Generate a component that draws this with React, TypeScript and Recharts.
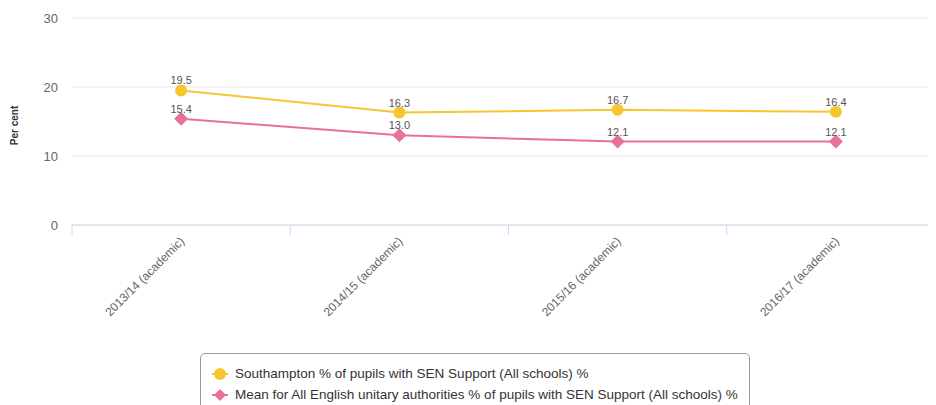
import React from 'react';
import { LineChart, Line, XAxis, YAxis, CartesianGrid, Legend, LabelList } from 'recharts';

const years = ['2013/14 (academic)', '2014/15 (academic)', '2015/16 (academic)', '2016/17 (academic)'];
const southampton = [19.5, 16.3, 16.7, 16.4];
const englishMean = [15.4, 13.0, 12.1, 12.1];
const yTicks = [0, 10, 20, 30];

const seriesNames = {
    southampton: 'Southampton % of pupils with SEN Support (All schools) %',
    englishMean: 'Mean for All English unitary authorities % of pupils with SEN Support (All schools) %',
};

const YELLOW = '#f7c52f';
const PINK = '#e8719b';
const FONT = '"Liberation Sans", Arial, sans-serif';

const data = years.map((year, i) => ({
    year,
    southampton: southampton[i],
    englishMean: englishMean[i],
}));

const Diamond = (props: any) => {
    const { cx, cy, fill, r = 7 } = props;
    if (cx == null || cy == null) return null;
    return <polygon points={`${cx},${cy - r} ${cx + r},${cy} ${cx},${cy + r} ${cx - r},${cy}`} fill={fill} />;
};

const XTick = (props: any) => {
    const { x, y, payload } = props;
    const half = payload.offset || 0;
    return (
        <g>
            <line x1={x - half} x2={x - half} y1={y - 8} y2={y + 2} stroke="#ccd6eb" />
            <text
                x={x + 4}
                y={y + 9}
                textAnchor="end"
                fontSize={12}
                fill="#666"
                fontFamily={FONT}
                transform={`rotate(-45, ${x + 4}, ${y + 9})`}
            >
                {payload.value}
            </text>
        </g>
    );
};

const YLabel = (props: any) => {
    const { viewBox } = props;
    const x = viewBox.x + 10;
    const y = viewBox.y + viewBox.height / 2 + 4;
    return (
        <text
            x={x}
            y={y}
            textAnchor="middle"
            fontSize={10}
            fontWeight="bold"
            fill="#333"
            fontFamily={FONT}
            transform={`rotate(-90, ${x}, ${y})`}
        >
            Per cent
        </text>
    );
};

const LegendBox = () => (
    <div
        style={{
            border: '1px solid #999',
            borderRadius: 5,
            width: 550,
            height: 80,
            background: '#fff',
            fontFamily: FONT,
            fontSize: 13.5,
            color: '#333',
            paddingTop: 9,
            boxSizing: 'border-box',
        }}
    >
        {[
            { name: seriesNames.southampton, color: YELLOW, shape: 'circle' },
            { name: seriesNames.englishMean, color: PINK, shape: 'diamond' },
        ].map((item) => (
            <div key={item.name} style={{ display: 'flex', alignItems: 'center', height: 21, paddingLeft: 10 }}>
                <svg width={18} height={14} style={{ marginRight: 6 }}>
                    <line x1={1} x2={17} y1={7} y2={7} stroke={item.color} strokeWidth={2} />
                    {item.shape === 'circle' ? (
                        <circle cx={9} cy={7} r={6} fill={item.color} />
                    ) : (
                        <polygon points="9,1 15,7 9,13 3,7" fill={item.color} />
                    )}
                </svg>
                <span>{item.name}</span>
            </div>
        ))}
    </div>
);

const fmt = (v: any) => Number(v).toFixed(1);

const App: React.FC = () => {
    return (
        <div style={{ width: 928, height: 397, overflow: 'hidden' }}>
            <LineChart width={940} height={420} data={data} margin={{ top: 10, right: 3, bottom: 3, left: 0 }}>
                <CartesianGrid vertical={false} stroke="#e6e6e6" />
                <XAxis
                    dataKey="year"
                    scale="band"
                    stroke="#ccd6eb"
                    tickLine={false}
                    height={120}
                    interval={0}
                    tick={<XTick />}
                />
                <YAxis
                    domain={[0, 30]}
                    ticks={yTicks}
                    width={64}
                    axisLine={false}
                    tickLine={false}
                    tickSize={0}
                    tickMargin={14}
                    tick={{ fontSize: 13, fill: '#666', fontFamily: FONT }}
                    label={<YLabel />}
                />
                <Legend
                    layout="vertical"
                    align="center"
                    verticalAlign="bottom"
                    content={<LegendBox />}
                    wrapperStyle={{ top: 345, left: 192, bottom: 'auto', width: 550 }}
                />
                <Line
                    type="linear"
                    dataKey="southampton"
                    name={seriesNames.southampton}
                    stroke={YELLOW}
                    strokeWidth={2}
                    dot={{ r: 6, fill: YELLOW, stroke: YELLOW, strokeWidth: 0 }}
                    isAnimationActive={false}
                >
                    <LabelList dataKey="southampton" position="top" offset={6} formatter={fmt} style={{ fontSize: 11, fill: '#555', fontFamily: FONT }} />
                </Line>
                <Line
                    type="linear"
                    dataKey="englishMean"
                    name={seriesNames.englishMean}
                    stroke={PINK}
                    strokeWidth={2}
                    dot={(p: any) => <Diamond key={p.index} cx={p.cx} cy={p.cy} fill={PINK} r={7} />}
                    isAnimationActive={false}
                >
                    <LabelList dataKey="englishMean" position="top" offset={6} formatter={fmt} style={{ fontSize: 11, fill: '#555', fontFamily: FONT }} />
                </Line>
            </LineChart>
        </div>
    );
};

export default App;
